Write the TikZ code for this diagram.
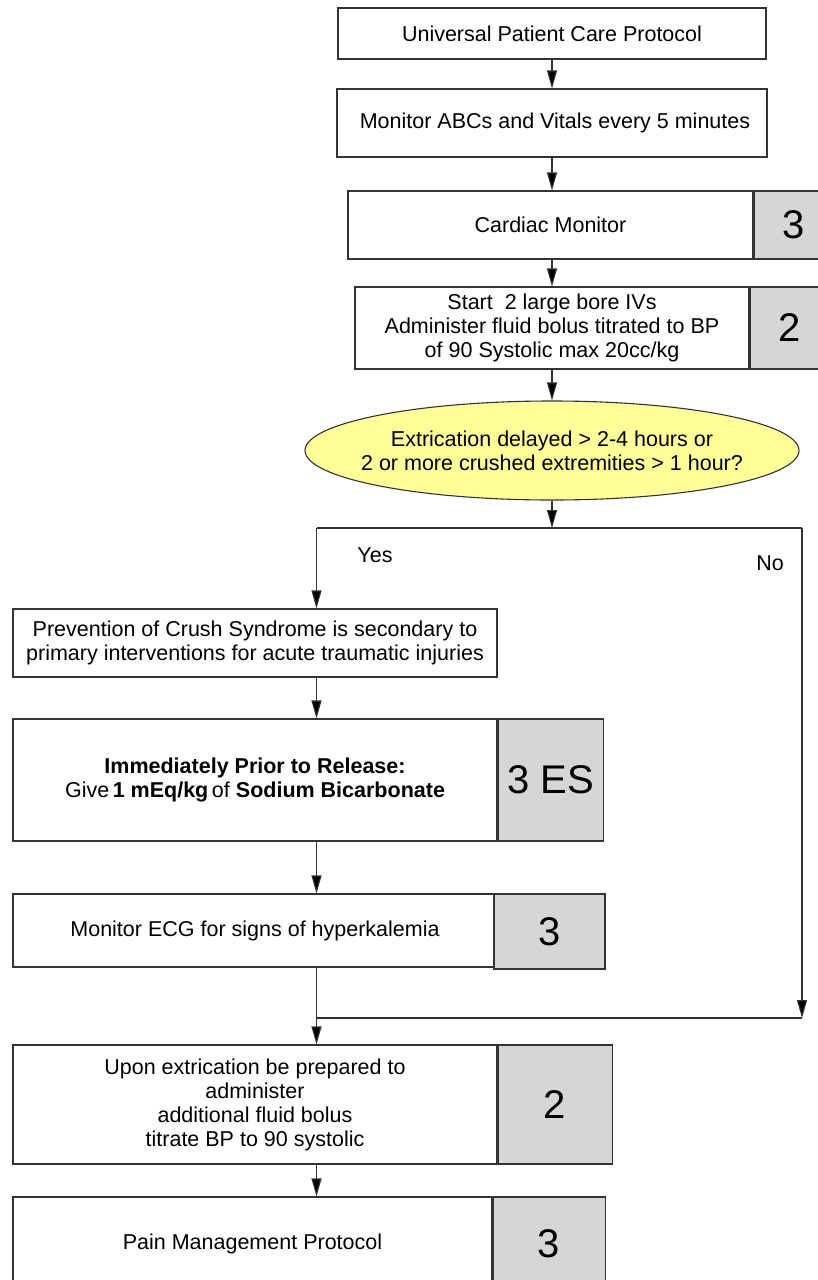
\documentclass[tikz,border=0pt]{standalone}
\usepackage{fontspec}
\setmainfont{Liberation Sans}
\usepackage{tikz}
\usetikzlibrary{arrows.meta,positioning,shapes.geometric,calc}
\definecolor{decisionyellow}{RGB}{255,255,153}
\definecolor{levelgray}{RGB}{214,214,214}

\begin{document}
\begin{tikzpicture}[x=1pt,y=-1pt,>={Triangle[length=18pt,width=10pt,fill=black]},line width=1.1pt,
  every node/.style={font=\fontsize{21.5}{24}\selectfont,align=center,inner sep=0pt},
  stepbox/.style={draw=black!80,fill=white},
  levelbox/.style={draw=black!80,fill=levelgray,anchor=west,font=\fontsize{40}{44}\selectfont},
  decision/.style={ellipse,draw=black!80,fill=decisionyellow,inner sep=0pt},
  flow/.style={draw=black!80}]
\useasboundingbox (0,0) rectangle (818,1280);
\clip (0,0) rectangle (818,1280);

% main column
\node[stepbox,minimum width=428pt,minimum height=51pt] (upcp) at (552,33.5) {Universal Patient Care Protocol};
\node[stepbox,minimum width=430pt,minimum height=68pt] (abc) at (552,123) {\ Monitor ABCs and Vitals every 5 minutes};
\node[stepbox,minimum width=405pt,minimum height=68pt] (cardiac) at (550.5,225) {Cardiac Monitor};
\node[levelbox,minimum width=80pt,minimum height=68pt] (cardiaclvl) at (cardiac.east) {3};
\node[stepbox,minimum width=394pt,minimum height=82pt] (ivs) at (552,328) {Start\ \ 2 large bore IVs\\Administer fluid bolus titrated to BP\\of 90 Systolic max 20cc/kg};
\node[levelbox,minimum width=80pt,minimum height=82pt] (ivslvl) at (ivs.east) {2};
\node[decision,minimum width=494pt,minimum height=99pt,
  label={[align=center]center:{Extrication delayed > 2-4 hours or\\2 or more crushed extremities > 1 hour?}}] (extr) at (552,450.5) {};

% branch points
\coordinate (split) at (552,528);
\coordinate (spine) at (316.5,0);
\coordinate (noline) at (802,0);
\coordinate (merge) at (0,1018);

\node (yes) at (375,555) {Yes};
\node (no) at (770,563) {No};

% yes column
\node[stepbox,minimum width=484pt,minimum height=68pt] (crush) at (255,643) {Prevention of Crush Syndrome is secondary to\\primary interventions for acute traumatic injuries};
\node[stepbox,minimum width=484pt,minimum height=122pt] (release) at (255,780) {\textbf{Immediately Prior to Release:}\\Give\,\textbf{1 mEq/kg}\,of \textbf{Sodium Bicarbonate}};
\node[levelbox,minimum width=105pt,minimum height=122pt] (releaselvl) at (release.east) {3 ES};
\node[stepbox,minimum width=484pt,minimum height=73pt] (ecg) at (255,930.5) {Monitor ECG for signs of hyperkalemia};
\node[levelbox,anchor=center,minimum width=111pt,minimum height=75pt] (ecglvl) at (549.5,931.5) {3};
\node[stepbox,minimum width=484pt,minimum height=119pt] (upon) at (255,1104.5) {Upon extrication be prepared to\\administer\\additional fluid bolus\\titrate BP to 90 systolic};
\node[levelbox,minimum width=114pt,minimum height=119pt] (uponlvl) at (upon.east) {2};
\node[stepbox,minimum width=479pt,minimum height=93pt] (pain) at (252.5,1243.5) {Pain Management Protocol};
\node[levelbox,minimum width=112pt,minimum height=93pt] (painlvl) at (pain.east) {3};

% connectors
\draw[flow,->] (upcp) -- (abc);
\draw[flow,->] (abc.south) -- (abc.south |- cardiac.north);
\draw[flow,->] (cardiac.south -| abc.south) -- (ivs.north);
\draw[flow,->] (ivs) -- (extr);
\draw[flow,->] (extr.south) -- (split);
\draw[flow] (split -| spine) -- (split -| noline);
\draw[flow,->] (split -| spine) -- (crush.north -| spine);
\draw[flow,->] (split -| noline) -- (merge -| noline);
\draw[flow,->] (crush.south -| spine) -- (release.north -| spine);
\draw[flow,->] (release.south -| spine) -- (ecg.north -| spine);
\draw[flow] (merge -| spine) -- (merge -| noline);
\draw[flow,->] (ecg.south -| spine) -- (upon.north -| spine);
\draw[flow,->] (upon.south -| spine) -- (pain.north -| spine);
\end{tikzpicture}
\end{document}
